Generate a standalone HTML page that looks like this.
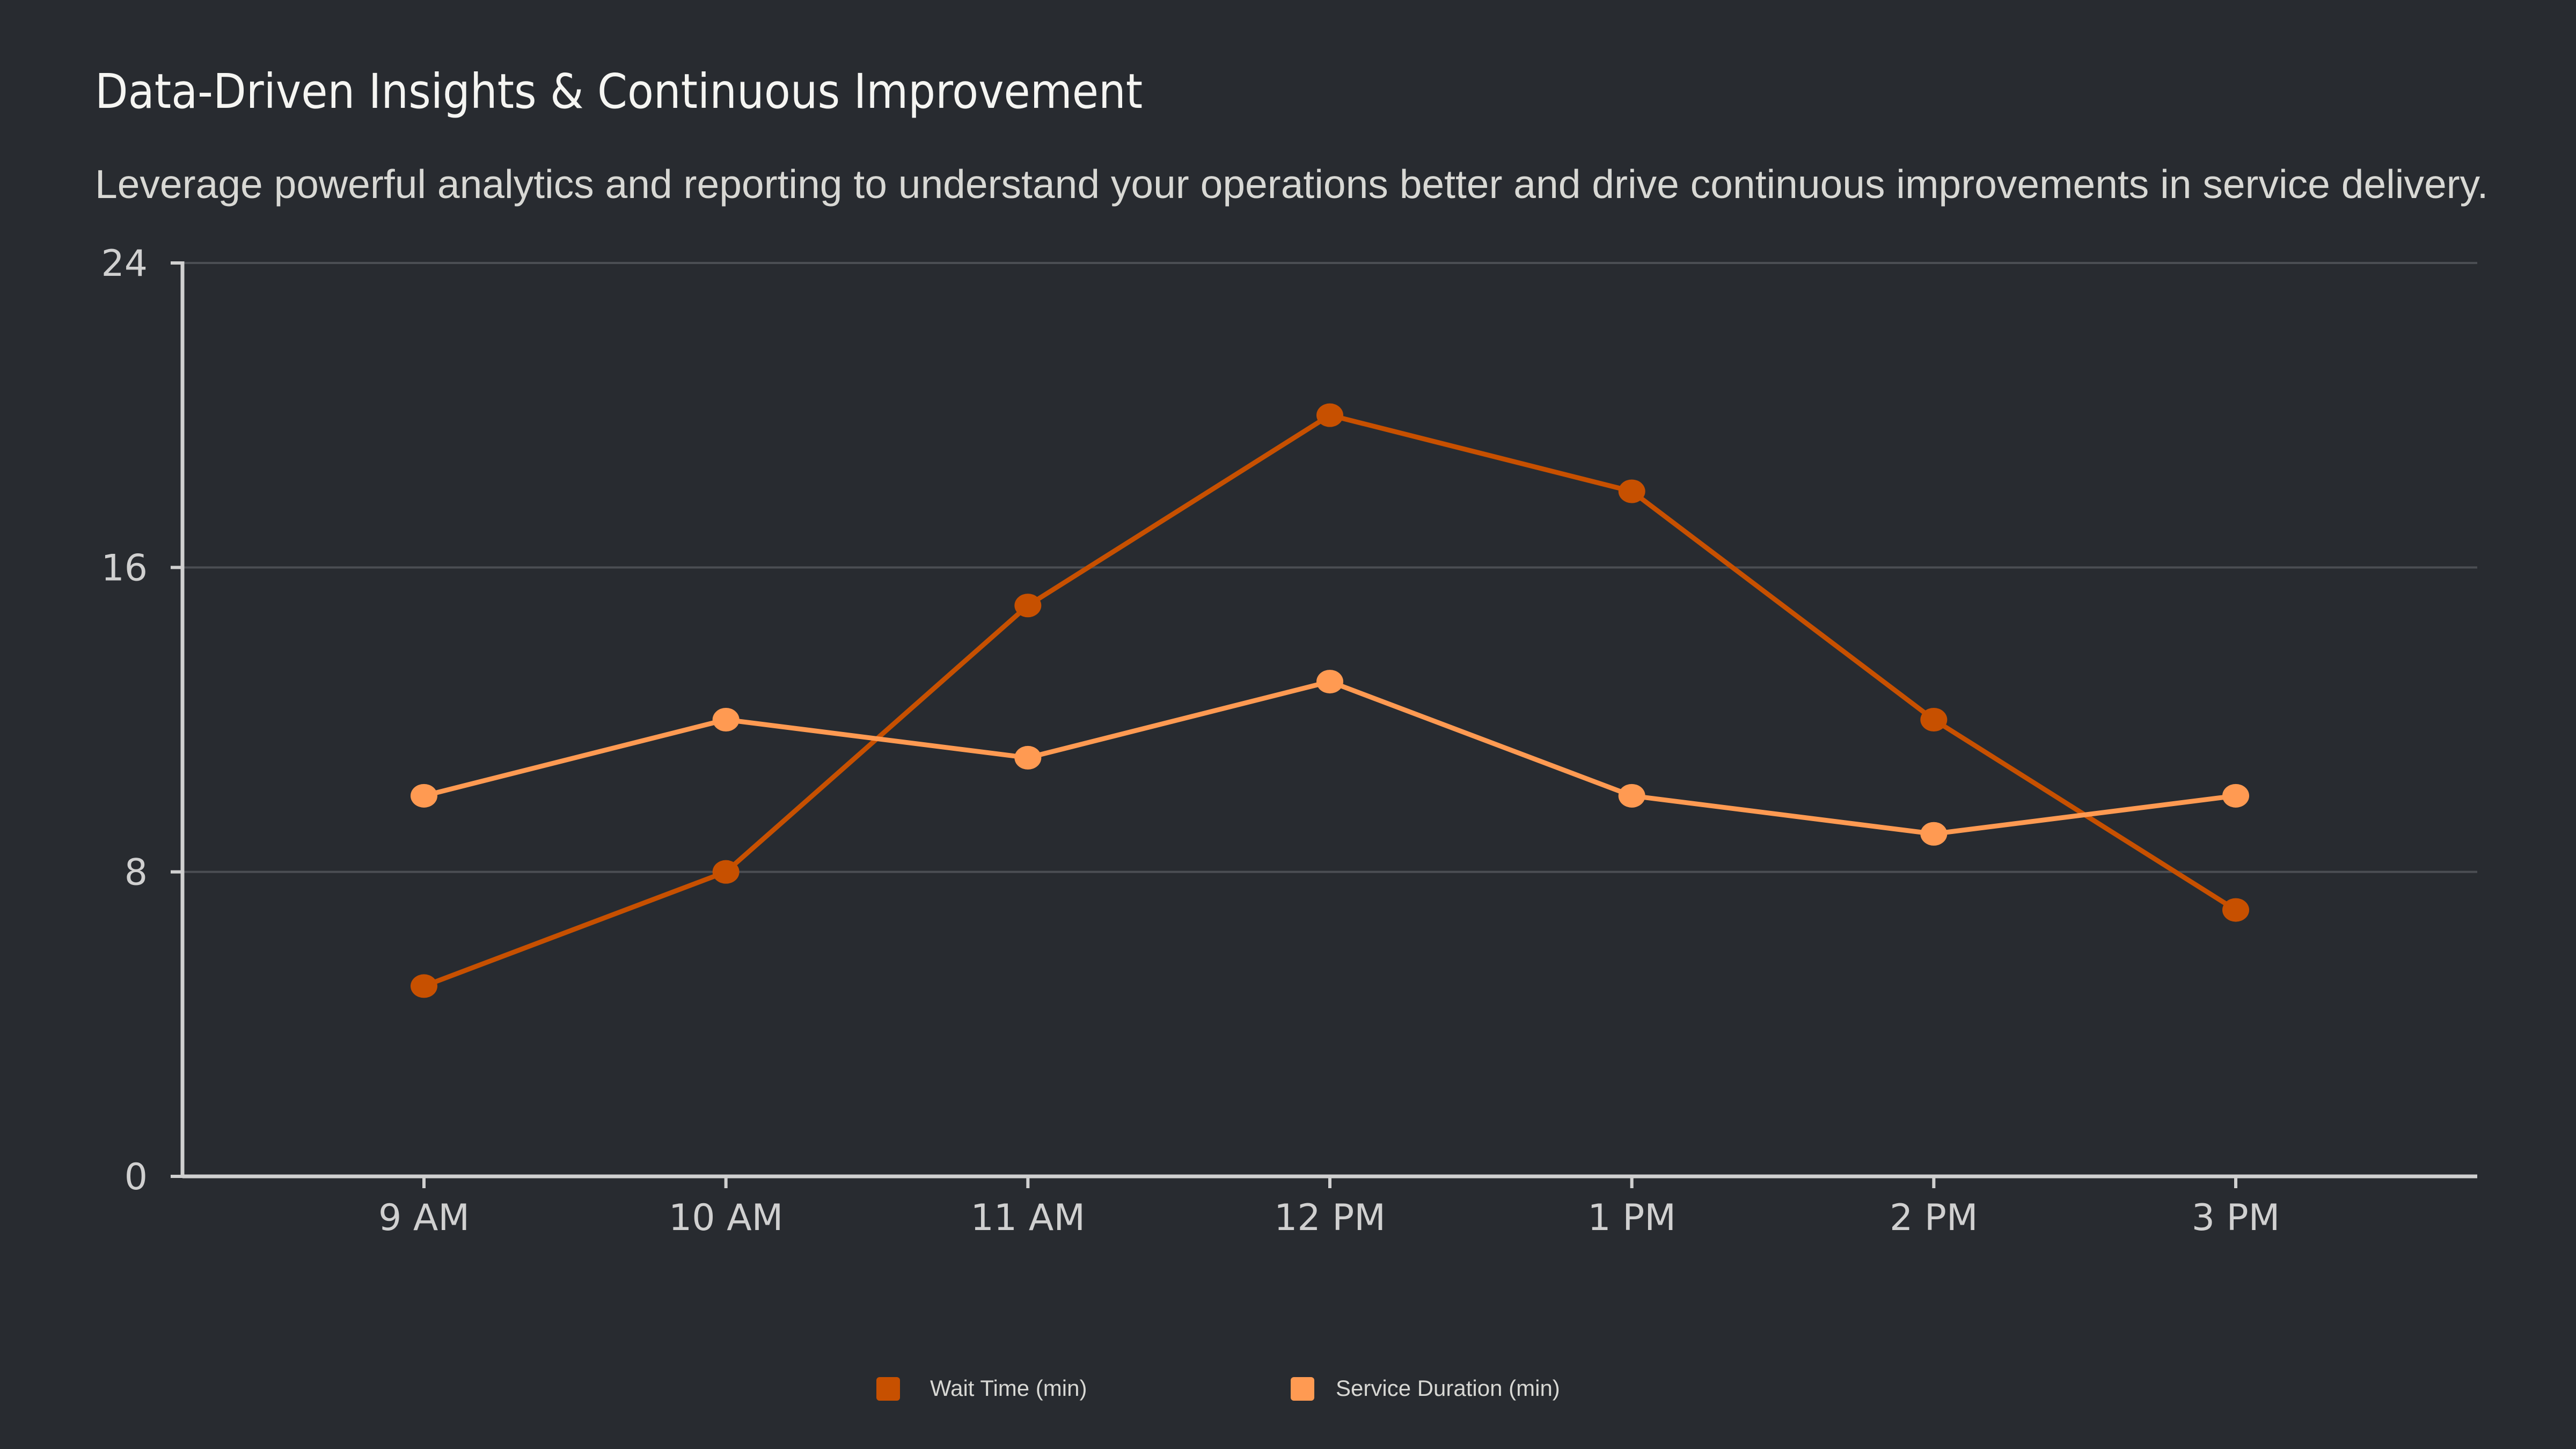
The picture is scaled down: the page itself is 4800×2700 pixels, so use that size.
<!DOCTYPE html>
<html><head><meta charset="utf-8"><style>
html,body{margin:0;padding:0;background:#282b30;}
body{width:4800px;height:2700px;position:relative;overflow:hidden;font-family:"Liberation Sans","DejaVu Sans",sans-serif;}
.t{position:absolute;left:177px;top:118px;font-size:89px;color:#f5f5f2;font-family:"DejaVu Sans Condensed","DejaVu Sans",sans-serif;}
.s{position:absolute;left:177px;top:300px;font-size:75px;color:#d8d8d4;}
svg{position:absolute;left:0;top:0;}
</style></head><body>
<div class="t">Data-Driven Insights &amp; Continuous Improvement</div>
<div class="s">Leverage powerful analytics and reporting to understand your operations better and drive continuous improvements in service delivery.</div>
<svg id="c" width="4800" height="2700"></svg>
<script>
const categories=["9 AM","10 AM","11 AM","12 PM","1 PM","2 PM","3 PM"];
const waitTime=[5,8,15,20,18,12,7];
const serviceDuration=[10,12,11,13,10,9,10];
const yTicks=[0,8,16,24];
const seriesNames=["Wait Time (min)","Service Duration (min)"];
const svg=document.getElementById('c');
const NS='http://www.w3.org/2000/svg';
const X0=340,X1=4616,Y0=2192,Y1=490,PAD=450,YMAX=24;
function x(i){return X0+PAD+i*(X1-X0-2*PAD)/(categories.length-1);}
function y(v){return Y0-(v/YMAX)*(Y0-Y1);}
function mk(t,a){const e=document.createElementNS(NS,t);for(const k in a)e.setAttribute(k,a[k]);svg.appendChild(e);return e;}
yTicks.forEach(v=>{
  if(v>0){const g=mk('line',{x1:X0,x2:X1,y1:y(v),y2:y(v),stroke:'#4b4e53','stroke-width':4});
  
  }
  const tk=mk('line',{x1:X0-22,x2:X0,y1:y(v),y2:y(v),stroke:'#d0d0d0','stroke-width':6});
  
  
  const t=mk('text',{x:X0-65,y:y(v)+24,'text-anchor':'end','font-size':68,fill:'#d0d0d0','font-family':'DejaVu Sans, sans-serif'});
  t.textContent=v;
  
  
});
const ya=mk('line',{x1:X0,x2:X0,y1:Y1-3,y2:Y0+3,stroke:'#d0d0d0','stroke-width':7});


const xa=mk('line',{x1:X0,x2:X1,y1:Y0,y2:Y0,stroke:'#d0d0d0','stroke-width':7});


categories.forEach((c,i)=>{
  const tk=mk('line',{x1:x(i),x2:x(i),y1:Y0,y2:Y0+22,stroke:'#d0d0d0','stroke-width':6});
  
  
  const t=mk('text',{x:x(i),y:Y0+100,'text-anchor':'middle','font-size':68,fill:'#d0d0d0','font-family':'DejaVu Sans, sans-serif'});
  t.textContent=c;
  
  
});
function series(vals,color,name){
  const p=mk('polyline',{points:vals.map((v,i)=>x(i)+','+y(v)).join(' '),fill:'none',stroke:color,'stroke-width':9,'stroke-linejoin':'round'});
  
  
  vals.forEach((v,i)=>{
    const c=mk('ellipse',{cx:x(i),cy:y(v),rx:25,ry:22,fill:color});
    
    
  });
}
series(waitTime,'#c75000','wait-time');
series(serviceDuration,'#ff9a52','service-duration');
const lc=['#c75000','#ff9a52'],lx=[1633,2405];
seriesNames.forEach((n,i)=>{
  const r=mk('rect',{x:lx[i],y:2566,width:44,height:44,rx:6,fill:lc[i]});
  
  
  const t=mk('text',{x:lx[i]+(i?84:100),y:2601,'font-size':42,fill:'#d8d8d4'});
  t.textContent=n;
  
  
});
</script>
</body></html>
